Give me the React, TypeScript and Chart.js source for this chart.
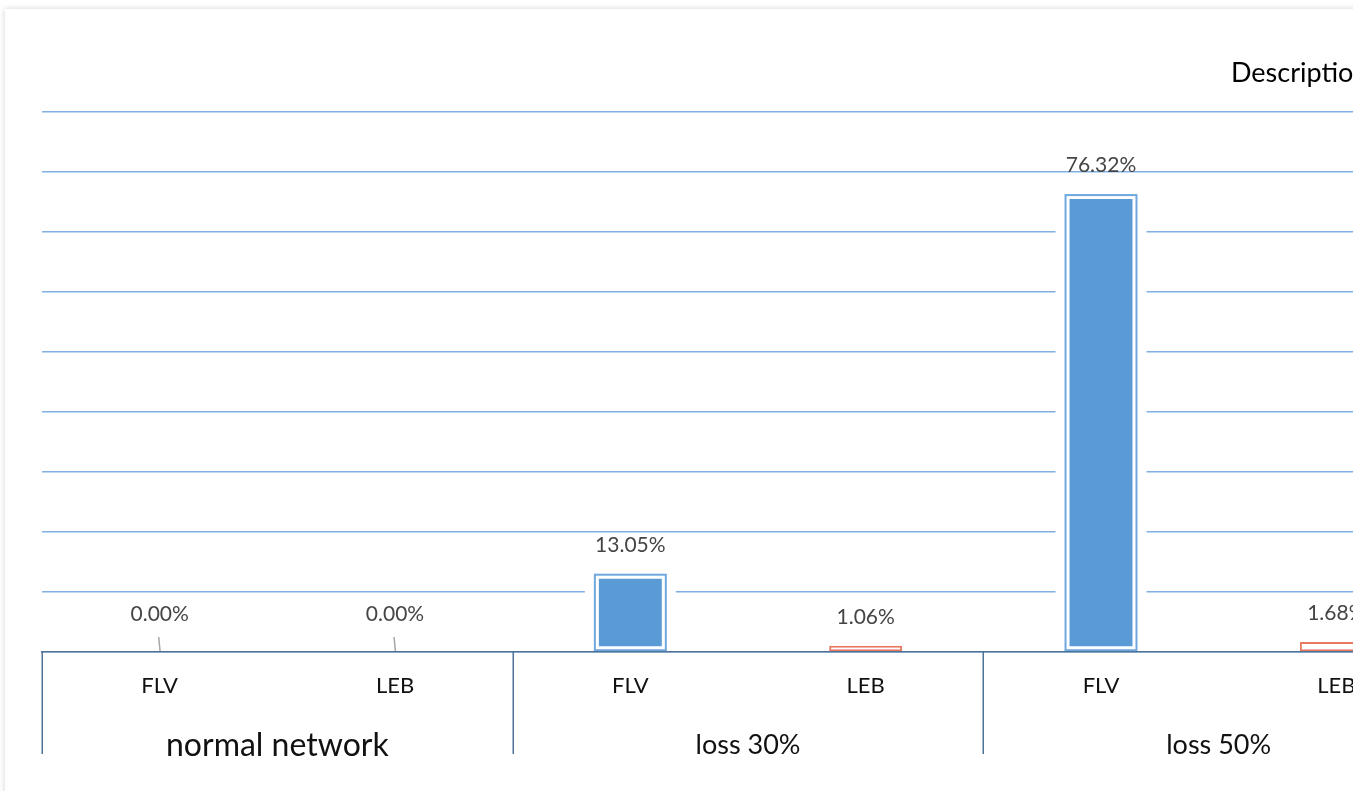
import React, { useEffect, useRef } from "react";
import { Chart, registerables } from "chart.js";

Chart.register(...registerables);

const categories = ["FLV", "LEB", "FLV", "LEB", "FLV", "LEB"];
const groups = ["normal network", "loss 30%", "loss 50%"];
const values = [0, 0, 13.05, 1.06, 76.32, 1.68];
const valueLabels = ["0.00%", "0.00%", "13.05%", "1.06%", "76.32%", "1.68%"];
const yMax = 90;
const yStep = 10;
const headerText = "Description";

const FONT = "Lato, 'Open Sans', sans-serif";
const BLUE = "#5B9BD5";
const BLUE_LINE = "#6FA8DE";
const ORANGE = "#E8785F";
const GRID = "#80B0E2";

const barStylePlugin = {
  id: "barStyle",
  beforeDatasetsDraw(chart: any) {
    const meta = chart.getDatasetMeta(0);
    const ctx = chart.ctx;
    ctx.save();
    meta.data.forEach((el: any, i: number) => {
      if (i % 2 !== 0 || values[i] <= 0) return;
      const { x, y, base, width } = el.getProps(["x", "y", "base", "width"], true);
      ctx.fillStyle = "#ffffff";
      ctx.fillRect(x - width / 2 - 9, y - 9, width + 18, base - y + 9 - 1);
    });
    ctx.restore();
  },
  afterDatasetsDraw(chart: any) {
    const meta = chart.getDatasetMeta(0);
    const ctx = chart.ctx;
    ctx.save();
    meta.data.forEach((el: any, i: number) => {
      const { x, y, base, width } = el.getProps(["x", "y", "base", "width"], true);
      if (i % 2 === 0 && values[i] > 0) {
        ctx.strokeStyle = BLUE_LINE;
        ctx.lineWidth = 2;
        ctx.strokeRect(x - width / 2 + 1, y + 1, width - 2, base - y - 2);
      }
      ctx.fillStyle = "#454545";
      ctx.font = `21px ${FONT}`;
      ctx.textAlign = "center";
      ctx.textBaseline = "alphabetic";
      if (values[i] === 0) {
        ctx.fillText(valueLabels[i], x, base - 31);
        ctx.strokeStyle = "#A6A6A6";
        ctx.lineWidth = 1.5;
        ctx.beginPath();
        ctx.moveTo(x - 1, base - 15);
        ctx.lineTo(x + 0.5, base);
        ctx.stroke();
      } else {
        ctx.fillText(valueLabels[i], x, y - 22);
      }
    });
    ctx.restore();
  },
  afterDraw(chart: any) {
    const xs = chart.scales.x;
    const ctx = chart.ctx;
    const step = xs.getPixelForValue(1) - xs.getPixelForValue(0);
    ctx.save();
    ctx.strokeStyle = "#4F7398";
    ctx.lineWidth = 1.5;
    for (let g = 0; g <= groups.length; g++) {
      const px = Math.round(xs.getPixelForValue(g * 2) - step / 2) + 0.25;
      ctx.beginPath();
      ctx.moveTo(px, chart.chartArea.bottom);
      ctx.lineTo(px, 754);
      ctx.stroke();
    }
    ctx.restore();
  },
};

export default function App() {
  const canvasRef = useRef<HTMLCanvasElement | null>(null);

  useEffect(() => {
    document.body.style.margin = "0";
    const canvas = canvasRef.current!;
    const chart = new Chart(canvas, {
      type: "bar",
      data: {
        labels: categories,
        datasets: [
          {
            label: headerText,
            data: values,
            backgroundColor: values.map((_, i) => (i % 2 === 0 ? BLUE : "#ffffff")),
            borderColor: values.map((_, i) => (i % 2 === 0 ? "#ffffff" : ORANGE)),
            borderWidth: values.map((_, i) => (i % 2 === 0 ? 5 : 2)),
            borderSkipped: false,
            categoryPercentage: 1,
            barPercentage: 0.31,
          },
        ],
      },
      options: {
        responsive: false,
        animation: false,
        devicePixelRatio: 1,
        layout: { padding: { left: 42, top: 112, right: 16, bottom: 9 } },
        plugins: {
          legend: { display: false },
          title: { display: false },
          tooltip: { enabled: false },
        },
        scales: {
          x: {
            type: "category",
            offset: true,
            weight: 0,
            grid: { display: false, drawTicks: false },
            border: { display: true, color: "#4F7398", width: 1.5, z: 1 },
            ticks: {
              color: "#111111",
              font: { family: FONT, size: 22 },
              padding: 21,
              maxRotation: 0,
              autoSkip: false,
            },
            afterFit: (s: any) => {
              s.height = 70;
            },
          },
          x2: {
            type: "category",
            labels: groups,
            position: "bottom",
            offset: true,
            weight: 1,
            grid: { display: false, drawTicks: false },
            border: { display: false },
            ticks: {
              color: "#111111",
              font: (c: any) =>
                c.index === 0
                  ? { family: FONT, size: 32, lineHeight: 1.2 }
                  : { family: FONT, size: 27, lineHeight: 1.42 },
              padding: 4,
              maxRotation: 0,
              autoSkip: false,
            },
            afterFit: (s: any) => {
              s.height = 60;
            },
          },
          y: {
            min: 0,
            max: yMax,
            ticks: { display: false, stepSize: yStep },
            grid: { color: GRID, lineWidth: 1.6, drawTicks: false },
            border: { display: false },
            afterFit: (s: any) => {
              s.width = 0;
            },
          },
        },
      },
      plugins: [barStylePlugin],
    } as any);
    return () => chart.destroy();
  }, []);

  return (
    <div
      style={{
        position: "relative",
        width: 1353,
        height: 791,
        overflow: "hidden",
        background: "#ffffff",
      }}
    >
      <div
        style={{
          position: "absolute",
          left: 5,
          top: 9,
          width: 1500,
          height: 900,
          background: "#ffffff",
          boxShadow: "0 0 6px rgba(0,0,0,0.18)",
        }}
      />
      <canvas
        ref={canvasRef}
        width={1470}
        height={791}
        style={{ position: "absolute", left: 0, top: 0, width: 1470, height: 791 }}
      />
      <div
        style={{
          position: "absolute",
          left: 1231,
          top: 57,
          font: `27px ${FONT}`,
          lineHeight: "30px",
          color: "#000000",
          whiteSpace: "nowrap",
        }}
      >
        {headerText}
      </div>
    </div>
  );
}
